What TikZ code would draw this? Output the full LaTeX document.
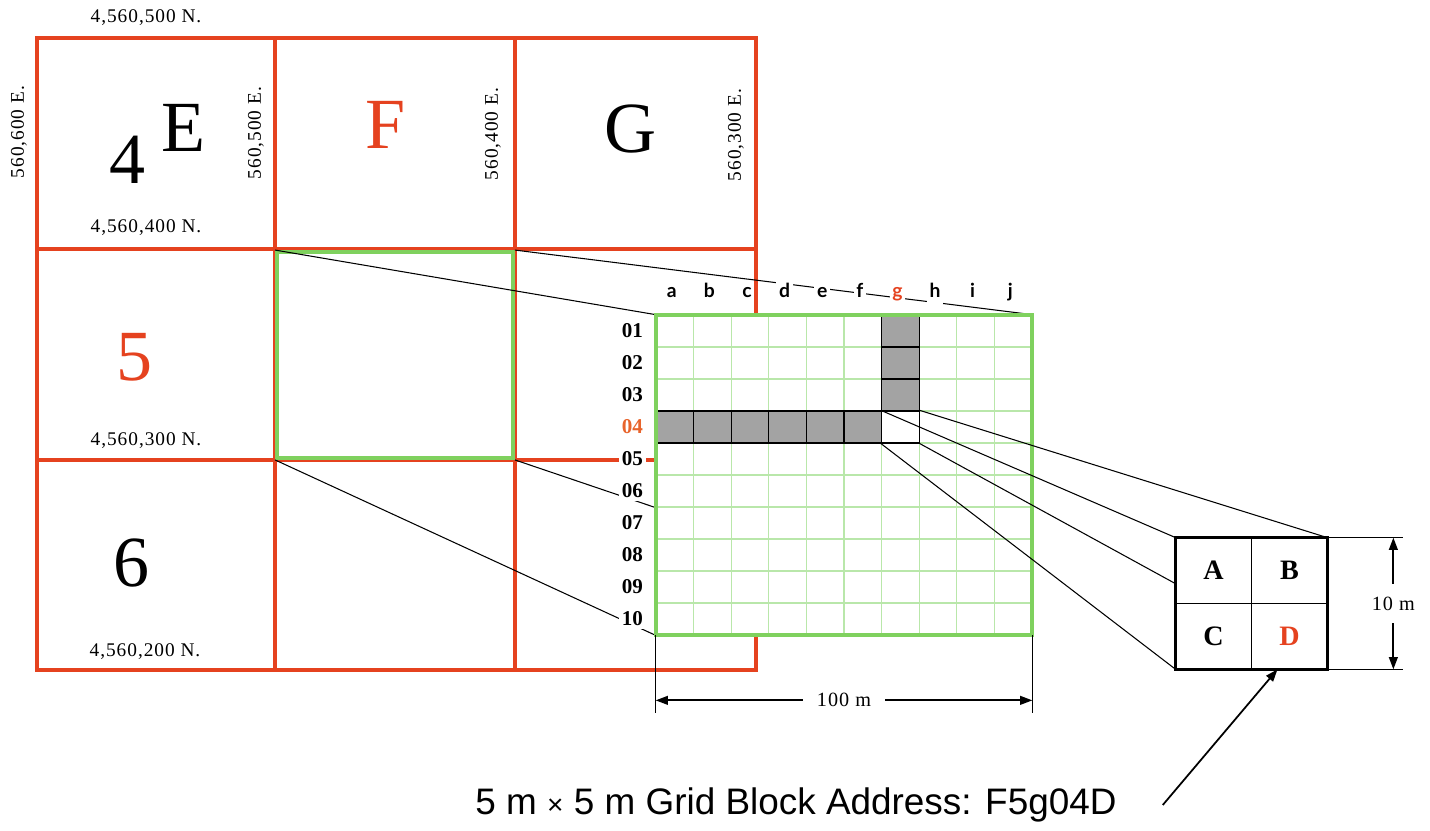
\documentclass[tikz,border=0pt]{standalone}
\usepackage{fontspec}
\setmainfont{Liberation Serif}
\setsansfont{Liberation Sans}
\newfontfamily\letterfont{Lato}
\newfontfamily\coordfont[LetterSpace=5]{Liberation Serif}
\usetikzlibrary{arrows.meta, positioning, fit, calc}
\usepackage{xcolor}
\definecolor{mapred}{HTML}{E5421F}
\definecolor{rowred}{HTML}{E8642C}
\definecolor{gridgreen}{HTML}{7FD15E}
\definecolor{finegreen}{HTML}{B9E7AA}
\definecolor{shadegrey}{HTML}{A3A3A3}
\tikzset{
  mapline/.style={draw=mapred, line width=1.9pt},
  blockline/.style={draw=gridgreen, line width=2.2pt},
  fineline/.style={draw=finegreen, line width=0.6pt},
  shadecell/.style={draw=black, fill=shadegrey, line width=0.7pt},
  projline/.style={draw=black, line width=0.6pt},
  coordlabel/.style={font=\coordfont\fontsize{11}{11}\selectfont, inner sep=1pt},
  bigletter/.style={font=\fontsize{41}{41}\selectfont, inner sep=0pt},
  collab/.style={font=\letterfont\bfseries\fontsize{11}{11}\selectfont, fill=white,
                 inner sep=1.5pt, text height=1.6ex, text depth=0.5ex},
  rowlab/.style={font=\bfseries\fontsize{12}{12}\selectfont, fill=white, inner sep=1.5pt, anchor=east},
  quadlab/.style={font=\bfseries\fontsize{16}{16}\selectfont},
  dimline/.style={draw=black, line width=0.7pt},
  dimarrow/.style={<->, line width=1pt, >={Triangle[length=7pt,width=5pt]}},
  dimlab/.style={font=\coordfont\fontsize{11.5}{11.5}\selectfont, fill=white},
  pointer/.style={->, line width=1pt, >={Triangle[length=7pt,width=5pt]}},
}

\begin{document}
\begin{tikzpicture}[x=0.02cm, y=-0.02cm]
  \useasboundingbox (0,0) rectangle (1430,831);
  \fill[white] (0,0) rectangle (1430,831);

  % --- 100 m map blocks (red) ---
  \draw[mapline] (37,38) rectangle (756,670);
  \foreach \x in {275,515}
    \draw[mapline] (\x,38) -- (\x,670);
  \foreach \y in {249,460}
    \draw[mapline] (37,\y) -- (756,\y);

  % --- block letters and row numbers ---
  \node[bigletter] (num4) at (128,160) {4};
  \node[bigletter] (letE) at (183,128) {E};
  \node[bigletter, text=mapred] (letF) at (386,125) {F};
  \node[bigletter] (letG) at (631,129) {G};
  \node[bigletter, text=mapred] (num5) at (135,357) {5};
  \node[bigletter] (num6) at (132,563) {6};

  % --- northings ---
  \node[coordlabel] (n500) at (146,18) {4,560,500 N.};
  \node[coordlabel] (n400) at (146,228) {4,560,400 N.};
  \node[coordlabel] (n300) at (146,441) {4,560,300 N.};
  \node[coordlabel] (n200) at (145,652) {4,560,200 N.};

  % --- eastings ---
  \node[coordlabel, rotate=90] (e600) at (19,132) {560,600 E.};
  \node[coordlabel, rotate=90] (e500) at (256,133) {560,500 E.};
  \node[coordlabel, rotate=90] (e400) at (493,134) {560,400 E.};
  \node[coordlabel, rotate=90] (e300) at (736,135) {560,300 E.};

  % --- block F5 (green) and its 10 m grid ---
  \node[blockline, fit={(277,252) (513,458)}, inner sep=0pt] (sq) {};
  \node[fit={(656,315) (1032,635)}, inner sep=0pt] (blk) {};

  % projection of F5 onto the grid
  \draw[projline] (sq.north west) -- (blk.north west);
  \draw[projline] (sq.north east) -- (blk.north east);
  \draw[projline] (sq.south west) -- (blk.south west);
  \draw[projline] (sq.south east) -- (blk.south east);

  \fill[white] (blk.north west) rectangle (blk.south east);
  \foreach \k in {1,...,9} {
    \draw[fineline] ({656+37.6*\k},315) -- ({656+37.6*\k},635);
    \draw[fineline] (656,{315+32*\k}) -- (1032,{315+32*\k});
  }

  % shaded cells: column g and row 04
  \foreach \k in {0,1,2}
    \draw[shadecell] (881.6,{315+32*\k}) rectangle ++(37.6,32);
  \foreach \k in {0,...,5}
    \draw[shadecell] ({656+37.6*\k},411) rectangle ++(37.6,32);
  \node[fit={(881.6,411) (919.2,443)}, inner sep=0pt, draw=black, line width=0.7pt] (cell) {};

  \draw[blockline] (blk.north west) rectangle (blk.south east);

  % column and row labels
  \foreach \l/\c [count=\k from 0] in {a/black,b/black,c/black,d/black,e/black,f/black,g/mapred,h/black,i/black,j/black}
    \node[collab, text=\c] (col\l) at ({656+37.6*(\k+0.5)-3},293) {\l};
  \foreach \r/\c [count=\k from 0] in {01/black,02/black,03/black,04/rowred,05/black,06/black,07/black,08/black,09/black,10/black}
    \node[rowlab, text=\c] (row\r) at (646,{315+32*(\k+0.5)}) {\r};

  % --- 5 m quarters of cell g04 ---
  \node[fit={(1176,538) (1327,669)}, inner sep=0pt] (abcd) {};
  \draw[projline] (cell.north east) -- (abcd.north east);
  \draw[projline] (cell.north west) -- (abcd.north west);
  \draw[projline] (cell.south east) -- ($(abcd.north west)!0.35!(abcd.south west)$);
  \draw[projline] (cell.south west) -- (abcd.south west);

  \fill[white] (abcd.north west) rectangle (abcd.south east);
  \draw[line width=0.7pt] (abcd.north) -- (abcd.south);
  \draw[line width=0.7pt] (abcd.west) -- (abcd.east);
  \draw[line width=1.7pt] (abcd.north west) rectangle (abcd.south east);
  \node[quadlab] (qa) at ($(abcd.north west)!0.5!(abcd.center)$) {A};
  \node[quadlab] (qb) at ($(abcd.north east)!0.5!(abcd.center)$) {B};
  \node[quadlab] (qc) at ($(abcd.south west)!0.5!(abcd.center)$) {C};
  \node[quadlab, text=mapred] (qd) at ($(abcd.south east)!0.5!(abcd.center)$) {D};

  % --- dimensions ---
  \draw[dimline] (abcd.north east) -- ++(76,0);
  \draw[dimline] (abcd.south east) -- ++(76,0);
  \draw[dimarrow] ($(abcd.north east)+(66,0)$) --
        node[dimlab, inner ysep=7pt] (dim10) {10 m} ($(abcd.south east)+(66,0)$);

  \draw[dimline] (blk.south west) -- ++(0,78);
  \draw[dimline] (blk.south east) -- ++(0,78);
  \draw[dimarrow] ($(blk.south west)+(0,65)$) --
        node[dimlab, inner xsep=8pt] (dim100) {100 m} ($(blk.south east)+(0,65)$);

  % --- address caption ---
  \node[font=\sffamily\fontsize{21}{21}\selectfont] (caption) at (796,805)
       {5 m {\fontsize{16}{16}\selectfont ×} 5 m Grid Block Address: F5g04D};
  \draw[pointer] ([xshift=0.8cm]caption.east) -- ([xshift=0.52cm]abcd.south);

\end{tikzpicture}
\end{document}
